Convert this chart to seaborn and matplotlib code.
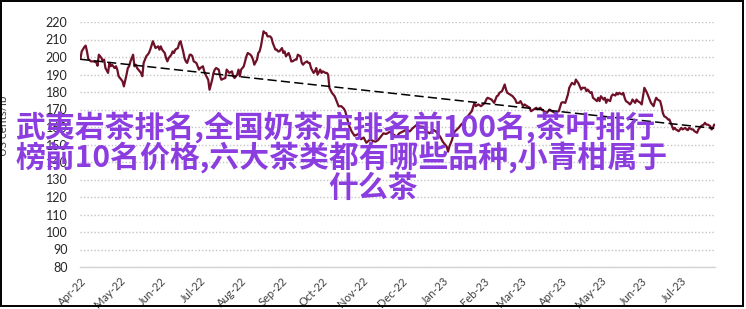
import numpy as np
import pandas as pd
import matplotlib
matplotlib.use("Agg")
import matplotlib.pyplot as plt
from matplotlib.patches import Rectangle
import seaborn as sns

# ---------------- data ----------------
start_date = "2022-04-01"

# days since start_date
day_offset = [
    0, 1, 3, 4, 5, 6, 8, 10, 12, 13, 14, 16, 17, 18, 19, 21, 22, 23, 24, 26,
    27, 28, 29, 31, 32, 33, 35, 36, 37, 38, 40, 41, 42, 43, 45, 46, 47, 48, 50, 51,
    52, 53, 55, 56, 57, 59, 60, 61, 62, 64, 65, 66, 67, 69, 70, 71, 72, 74, 75, 76,
    78, 79, 80, 81, 83, 84, 85, 86, 88, 89, 90, 91, 93, 94, 95, 97, 98,
    100, 101, 102, 103, 105, 106, 107, 108, 110, 111, 112, 113, 115, 116, 117, 119, 120, 121, 122,
    124, 125, 126, 127, 129, 130, 131, 132, 134, 135, 136, 137, 139, 140, 141, 142, 144, 145, 146, 148,
    149, 150, 151, 153, 154, 155, 156, 158, 159, 160, 161, 163, 164, 165, 167, 168, 169, 170, 172, 173,
    174, 175, 177, 178, 179, 180, 182, 183, 184, 186, 187, 188, 189, 191, 192, 193, 194, 196,
    198, 200, 201, 202, 203, 204, 206, 208, 211, 213, 215, 217, 220, 222, 224, 226, 230, 232, 235, 237,
    240, 242, 245, 247, 250, 252, 255, 258, 260, 263, 265, 268, 270, 273, 275, 278, 279, 280, 282, 283, 284,
    287, 289, 292, 294, 297, 299, 300, 302, 304, 307, 308, 309, 312, 314, 316, 317, 318, 320, 322, 323,
    324, 326, 328, 330, 331, 333, 334, 336, 337, 339, 341, 342, 344, 346, 347, 349, 350, 352, 354, 356,
    358, 360, 363, 365, 366, 368, 370, 371, 373, 375, 376, 378, 380, 381,
    383, 384, 385, 387, 388, 389, 390, 392, 393, 394, 395, 397, 398, 399, 400, 402, 403, 404, 406, 407,
    408, 409, 411, 412, 413, 414, 416, 417, 418, 419, 421, 422, 423, 425, 426, 427, 428, 430, 431, 432,
    433, 435, 436, 437, 438, 440, 441, 442, 443, 445, 446, 447, 449, 450, 451, 452, 454, 455, 456, 457,
    459, 460, 461, 462, 464, 465, 466, 468, 469, 470, 471, 473, 474, 475, 476, 478, 479, 480, 481,
]

# price, US cents/lb
price = [
    198.9, 203.2, 205.7, 206.5, 203.2, 198.9, 197.5, 197.5, 197.0, 195.0, 201.3, 199.4, 197.5, 198.5, 193.7, 190.9, 196.6, 194.7, 195.6, 193.7,
    194.7, 192.8, 189.0, 187.0, 186.1, 183.2, 189.9, 193.7, 194.7, 197.5, 201.3, 194.7, 195.6, 193.7, 191.8, 190.9, 189.0, 196.6, 200.4, 201.3,
    202.3, 204.2, 209.0, 207.0, 205.1, 206.1, 204.2, 206.1, 204.2, 202.3, 199.4, 197.5, 199.4, 201.3, 203.2, 202.3, 204.2, 205.1, 208.0, 209.0,
    203.2, 199.4, 197.5, 196.6, 201.3, 201.3, 200.4, 197.5, 196.6, 194.7, 192.8, 193.7, 194.7, 191.8, 189.9, 187.0, 181.3,
    187.0, 190.9, 192.8, 193.7, 192.8, 189.0, 187.0, 187.4, 188.0, 192.8, 191.8, 190.9, 191.8, 189.0, 188.0, 189.9, 192.8, 189.0, 192.8,
    194.7, 197.5, 200.4, 202.3, 201.3, 200.4, 198.5, 195.6, 198.5, 202.3, 203.2, 206.1, 214.7, 213.7, 213.7, 211.8, 211.8, 210.9, 208.0, 204.2,
    204.2, 203.2, 203.2, 205.1, 202.3, 203.2, 200.4, 202.3, 200.4, 197.5, 197.5, 198.5, 198.5, 201.3, 200.4, 196.6, 195.6, 196.6, 197.5, 196.6,
    196.6, 193.7, 190.9, 191.8, 193.7, 189.9, 192.8, 190.9, 191.8, 190.9, 190.9, 189.9, 182.3, 179.4, 178.5, 177.5, 175.6, 171.8,
    171.9, 170.4, 169.0, 166.2, 163.3, 160.5, 157.3, 155.0, 156.0, 153.0, 154.0, 151.0, 153.0, 152.0, 151.6, 152.6, 156.4, 156.0, 157.3, 156.0,
    154.5, 156.4, 157.5, 158.3, 157.5, 159.2, 161.1, 160.2, 160.2, 157.3, 156.4, 158.3, 157.3, 154.5, 151.6, 148.8, 145.9, 148.8, 152.6, 155.4, 157.3,
    159.5, 161.4, 163.3, 166.2, 169.0, 173.8, 171.9, 172.9, 171.9, 173.8, 175.7, 176.7, 175.7, 173.8, 177.6, 178.0, 179.5, 180.5, 184.3, 181.4,
    179.5, 178.6, 177.6, 175.7, 173.8, 173.8, 174.8, 171.9, 172.9, 171.9, 171.0, 169.0, 170.0, 171.0, 170.0, 171.0, 170.0, 169.0, 168.1, 170.0,
    169.0, 168.1, 169.0, 173.8, 174.2, 173.8, 178.6, 182.4, 185.2, 184.3, 187.1, 184.9, 181.4, 182.4,
    182.4, 180.5, 181.4, 179.5, 179.9, 176.7, 176.1, 174.8, 176.7, 174.8, 177.6, 175.7, 176.7, 173.8, 175.7, 174.8, 177.6, 178.6, 178.0, 179.5,
    178.6, 179.5, 178.6, 179.5, 176.7, 174.8, 173.8, 172.9, 173.8, 175.7, 173.8, 175.7, 174.8, 173.8, 172.9, 177.6, 182.4, 179.5, 177.6, 175.7,
    173.8, 171.9, 174.8, 176.7, 175.7, 174.8, 171.9, 168.1, 166.2, 165.2, 164.3, 164.3, 160.5, 158.6, 159.5, 158.6, 157.6, 158.6, 159.5, 158.6,
    159.5, 158.6, 158.2, 159.5, 158.6, 158.6, 157.6, 156.7, 158.6, 159.5, 160.5, 161.4, 162.4, 161.4, 161.4, 160.5, 158.6, 159.5, 161.4,
]

# dashed linear trend line: values at the first and last dates
trend_values = [198.7, 159.2]

y_ticks = list(range(80, 230, 10))
month_ticks = pd.date_range("2022-04-01", "2023-07-01", freq="MS")
month_labels = [d.strftime("%b-%y") for d in month_ticks]
y_label = "US cents/lb"
title_lines = [
    "武夷岩茶排名,全国奶茶店排名前100名,茶叶排行",
    "榜前10名价格,六大茶类都有哪些品种,小青柑属于",
    "什么茶",
]

# ---------------- style ----------------
sns.set_theme(style="white")
plt.rcParams["font.family"] = ["Lato", "DejaVu Sans"]

W, H = 746, 309
dates = pd.to_datetime(start_date) + pd.to_timedelta(day_offset, unit="D")
df = pd.DataFrame({"date": dates, "price": price})
trend_df = pd.DataFrame({"date": df["date"].iloc[[0, -1]].to_numpy(), "price": trend_values})

fig = plt.figure(figsize=(W / 100, H / 100), dpi=100)
fig.patch.set_facecolor("white")
ax = fig.add_axes([80 / W, 1 - 267 / H, 635 / W, 245 / H])
ax.set_facecolor("white")

sns.lineplot(data=df, x="date", y="price", ax=ax, color="#6e1027", linewidth=1.6, zorder=3)
sns.lineplot(data=trend_df, x="date", y="price", ax=ax, color="black", linewidth=1.1,
             linestyle=(0, (6, 2.8)), zorder=4)

t0 = pd.Timestamp(start_date)
ax.set_xlim(t0 - pd.Timedelta(days=0.3), t0 + pd.Timedelta(days=481.6))
ax.set_ylim(80, 220)
ax.set_yticks(y_ticks)
ax.set_xticks(month_ticks)
ax.set_xticklabels(month_labels, rotation=45, ha="right", va="top", rotation_mode="anchor")

ax.yaxis.grid(True, linestyle=(0, (1, 1.5)), color="#c4c4c4", linewidth=1.0)
ax.xaxis.grid(False)
for s in ["top", "right", "left"]:
    ax.spines[s].set_visible(False)
ax.spines["bottom"].set_color("#d4d4d4")
ax.spines["bottom"].set_linewidth(1.0)

ax.tick_params(axis="y", length=0, pad=9, labelsize=9, colors="#262626")
ax.tick_params(axis="x", length=0, pad=6, labelsize=8, colors="#404040")

ax.set_xlabel("")
ax.set_ylabel(y_label, fontsize=8.5, color="#404040")
ax.yaxis.set_label_coords((9.5 - 80) / 635, (267 - 126) / 245)

# overlay title text
cjk = ["Noto Sans CJK SC", "DejaVu Sans"]
purple = "#8b3ddf"
fig.text(15 / W, 1 - 127.5 / H, title_lines[0], family=cjk, fontsize=21.5, fontweight="bold",
         color=purple, ha="left", va="center", zorder=10)
fig.text(15 / W, 1 - 158 / H, title_lines[1], family=cjk, fontsize=21.5, fontweight="bold",
         color=purple, ha="left", va="center", zorder=10)
fig.text(328 / W, 1 - 187.5 / H, title_lines[2], family=cjk, fontsize=21.5, fontweight="bold",
         color=purple, ha="left", va="center", zorder=10)

# outer border
fig.add_artist(Rectangle((0.7 / W, 1 - 306 / H), 742 / W, 305.3 / H, transform=fig.transFigure,
                         fill=False, edgecolor="black", linewidth=1.4))

fig.savefig("out.png", dpi=100, facecolor="white")
